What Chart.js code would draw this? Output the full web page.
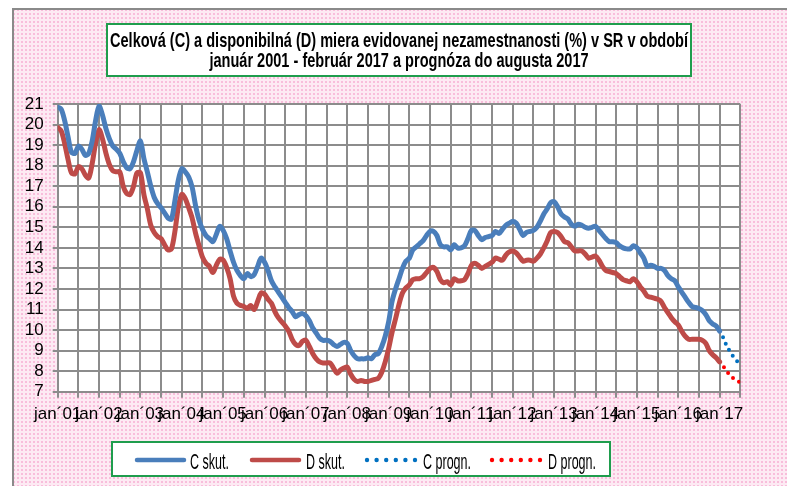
<!DOCTYPE html>
<html><head><meta charset="utf-8">
<script src="https://cdn.jsdelivr.net/npm/chart.js@4"></script>
<style>html,body{margin:0;padding:0;background:#fff;overflow:hidden}#wrap{position:relative;width:787px;height:486px}</style>
</head><body><div id="wrap"><canvas id="c" width="787" height="486"></canvas></div>
<script>
// ---- data (monthly, index 0 = jan 2001) ----
const xTickLabels = ["jan´01","jan´02","jan´03","jan´04","jan´05","jan´06","jan´07","jan´08","jan´09","jan´10","jan´11","jan´12","jan´13","jan´14","jan´15","jan´16","jan´17"];
const seriesNames = ["C skut.","D skut.","C progn.","D progn."];
const cSkut = [
20.85,20.75,20.2,19.4,18.65,18.6,18.95,18.8,18.5,18.6,19.2,20.2,
20.9,20.45,19.8,19.3,18.95,18.8,18.6,18.2,17.9,17.85,18.2,18.75,
19.2,18.35,17.7,17.0,16.45,16.15,15.95,15.7,15.45,15.4,16.3,17.3,
17.85,17.7,17.45,16.95,16.05,15.35,14.9,14.6,14.45,14.3,14.65,15.05,
14.85,14.45,13.85,13.3,12.9,12.65,12.5,12.75,12.6,12.7,13.1,13.5,
13.3,12.9,12.4,12.1,11.85,11.6,11.35,11.1,10.9,10.65,10.75,10.8,
10.7,10.45,10.1,9.85,9.6,9.5,9.5,9.45,9.3,9.2,9.3,9.4,
9.35,9.0,8.75,8.6,8.6,8.6,8.65,8.6,8.8,8.85,9.2,9.7,
10.4,11.4,12.0,12.5,13.0,13.35,13.5,13.9,14.05,14.2,14.35,14.6,
14.8,14.8,14.6,14.15,14.05,14.05,13.9,14.15,14.0,14.0,14.1,14.45,
14.85,14.85,14.6,14.4,14.5,14.55,14.6,14.8,14.7,14.9,15.1,15.2,
15.3,15.2,14.9,14.6,14.75,14.8,14.85,15.0,15.3,15.65,15.9,16.2,
16.25,16.0,15.65,15.5,15.4,15.15,15.05,15.15,15.1,15.0,14.95,15.0,
15.05,14.85,14.65,14.45,14.3,14.3,14.25,14.1,14.0,13.95,13.95,14.1,
14.0,13.75,13.5,13.1,13.15,13.1,13.0,13.0,12.9,12.65,12.5,12.4,
12.1,11.85,11.6,11.35,11.15,11.1,11.05,10.95,10.75,10.45,10.3,10.2,
9.95];
const dSkut = [
19.85,19.7,19.1,18.3,17.65,17.6,17.95,17.85,17.55,17.4,18.1,19.1,
19.75,19.3,18.6,18.05,17.75,17.7,17.7,17.0,16.65,16.6,17.0,17.65,
17.65,16.6,15.9,15.1,14.75,14.55,14.45,14.15,13.9,13.95,14.8,16.0,
16.6,16.4,15.95,15.45,14.7,14.1,13.55,13.25,13.1,12.8,13.15,13.45,
13.4,13.05,12.5,11.65,11.3,11.2,11.15,11.05,11.2,11.0,11.4,11.8,
11.75,11.5,11.3,10.9,10.6,10.4,10.2,9.95,9.55,9.3,9.25,9.45,
9.5,9.2,8.85,8.6,8.45,8.4,8.4,8.4,8.15,7.9,8.05,8.15,
8.2,7.85,7.6,7.5,7.55,7.5,7.5,7.55,7.6,7.65,7.95,8.45,
9.1,9.9,10.55,11.25,11.8,12.05,12.2,12.45,12.5,12.5,12.6,12.8,
13.0,13.05,12.85,12.45,12.3,12.35,12.2,12.5,12.4,12.4,12.45,12.75,
13.15,13.25,13.15,13.0,13.1,13.2,13.3,13.5,13.45,13.4,13.65,13.8,
13.85,13.75,13.55,13.35,13.4,13.4,13.35,13.5,13.7,14.0,14.35,14.75,
14.8,14.75,14.55,14.3,14.25,14.05,13.85,13.85,13.85,13.7,13.5,13.55,
13.6,13.4,13.1,12.9,12.85,12.8,12.75,12.6,12.45,12.4,12.35,12.5,
12.35,12.1,11.9,11.65,11.6,11.55,11.5,11.4,11.1,10.85,10.6,10.4,
10.25,9.95,9.7,9.55,9.55,9.55,9.55,9.5,9.35,9.0,8.8,8.65,
8.45];
const cProgn = [9.95,9.65,9.25,8.95,8.7,8.5,8.3];
const dProgn = [8.45,8.25,8.0,7.8,7.65,7.55,7.45];

const prognStart = cSkut.length - 1;
const toPts = (arr, start) => arr.map((v, i) => ({x: start + i, y: v}));
const NARROW = '"Liberation Sans Narrow","Arial Narrow","Liberation Sans",Arial,sans-serif';
const GRID = '#8c8c8c';

function makePattern(ctx){
  const t = document.createElement('canvas'); t.width = 4; t.height = 4;
  const c = t.getContext('2d');
  c.fillStyle = '#fdeaf3'; c.fillRect(0,0,4,4);
  c.fillStyle = '#f8bedb'; c.fillRect(1,1,2,2);
  return ctx.createPattern(t, 'repeat');
}
function condText(ctx, text, x, y, sx, align){
  ctx.save(); ctx.translate(x, y); ctx.scale(sx, 1); ctx.textAlign = align; ctx.fillText(text, 0, 0); ctx.restore();
}

const decor = {
  id: 'decor',
  beforeDraw(chart){
    const ctx = chart.ctx, ca = chart.chartArea;
    ctx.save();
    ctx.fillStyle = '#fff'; ctx.fillRect(0,0,chart.width,chart.height);
    ctx.fillStyle = makePattern(ctx); ctx.fillRect(14,10,chart.width-14,chart.height-10);
    ctx.strokeStyle = '#8a8a8a'; ctx.lineWidth = 2;
    ctx.beginPath(); ctx.moveTo(13,chart.height); ctx.lineTo(13,9); ctx.lineTo(chart.width,9); ctx.stroke();
    ctx.fillStyle = '#fff'; ctx.fillRect(ca.left, ca.top, ca.right-ca.left, ca.bottom-ca.top);
    ctx.restore();
  },
  afterDraw(chart){
    const ctx = chart.ctx;
    ctx.save();
    // title box
    ctx.fillStyle = '#fff'; ctx.fillRect(107,24,584,52);
    ctx.strokeStyle = '#1f9d4d'; ctx.lineWidth = 2; ctx.strokeRect(107,24,584,52);
    ctx.fillStyle = '#000'; ctx.textBaseline = 'alphabetic';
    ctx.font = 'bold 21px ' + NARROW;
    const l1 = 'Celková (C) a disponibilná (D) miera evidovanej nezamestnanosti (%) v SR v období';
    const l2 = 'január 2001 - február 2017 a prognóza do augusta 2017';
    const sx = 578 / ctx.measureText(l1).width;
    condText(ctx, l1, 399, 47, sx, 'center');
    condText(ctx, l2, 399, 66.5, sx, 'center');
    // legend box
    ctx.fillStyle = '#fff'; ctx.fillRect(112,442,498,34);
    ctx.strokeStyle = '#1f9d4d'; ctx.lineWidth = 2; ctx.strokeRect(112,442,498,34);
    const ds = chart.data.datasets;
    const sampleX = [135, 250, 365, 490];
    const textX = [190, 306, 423, 548];
    ctx.font = '22px ' + NARROW;
    let tw = 0; ds.forEach(d => tw += ctx.measureText(d.label).width);
    const lsx = 174 / tw;
    ds.forEach((d, i) => {
      const y = 460;
      if (!d.borderDash) {
        ctx.strokeStyle = d.borderColor; ctx.lineWidth = 4.5; ctx.lineCap = 'round';
        ctx.beginPath(); ctx.moveTo(sampleX[i]+2, y); ctx.lineTo(sampleX[i]+49, y); ctx.stroke();
      } else {
        ctx.fillStyle = d.borderColor;
        for (let k = 0; k < 6; k++) { ctx.beginPath(); ctx.arc(sampleX[i]+2+k*9.6, y, 2.2, 0, Math.PI*2); ctx.fill(); }
      }
      ctx.fillStyle = '#000';
      condText(ctx, d.label, textX[i], 469, lsx, 'left');
    });
    ctx.restore();
  }
};

new Chart(document.getElementById('c'), {
  type: 'line',
  data: { datasets: [
    { label: seriesNames[0], data: toPts(cSkut, 0), borderColor: '#4a7ebb', borderWidth: 5, pointRadius: 0, tension: 0.3, borderCapStyle: 'round', borderJoinStyle: 'round' },
    { label: seriesNames[1], data: toPts(dSkut, 0), borderColor: '#be4b48', borderWidth: 5, pointRadius: 0, tension: 0.3, borderCapStyle: 'round', borderJoinStyle: 'round' },
    { label: seriesNames[2], data: toPts(cProgn, prognStart), borderColor: '#0070c0', borderWidth: 4, pointRadius: 0, borderDash: [0, 7], borderCapStyle: 'round' },
    { label: seriesNames[3], data: toPts(dProgn, prognStart), borderColor: '#ff0000', borderWidth: 4, pointRadius: 0, borderDash: [0, 7], borderCapStyle: 'round' }
  ]},
  options: {
    responsive: false, animation: false, devicePixelRatio: 1,
    layout: { padding: { top: 104, right: 46.7, left: 0, bottom: 0 } },
    plugins: { legend: { display: false }, tooltip: { enabled: false } },
    scales: {
      x: { type: 'linear', min: 0, max: 198,
        grid: { color: GRID, lineWidth: 2, tickLength: 6, tickColor: GRID },
        border: { color: GRID, width: 2 },
        ticks: { stepSize: 6, autoSkip: false, maxRotation: 0, minRotation: 0, padding: 6, color: '#000',
          font: { family: NARROW, size: 17 },
          callback: v => (v % 12 === 0 ? xTickLabels[v / 12] : '') },
        afterFit: s => { s.height = 94.3; } },
      y: { min: 7, max: 21,
        grid: { color: GRID, lineWidth: 2, tickLength: 5, tickColor: GRID },
        border: { color: GRID, width: 2 },
        ticks: { stepSize: 1, autoSkip: false, padding: 9, color: '#000', font: { family: NARROW, size: 17 } },
        afterFit: s => { s.width = 57.7; } }
    }
  },
  plugins: [decor]
});
</script></body></html>
